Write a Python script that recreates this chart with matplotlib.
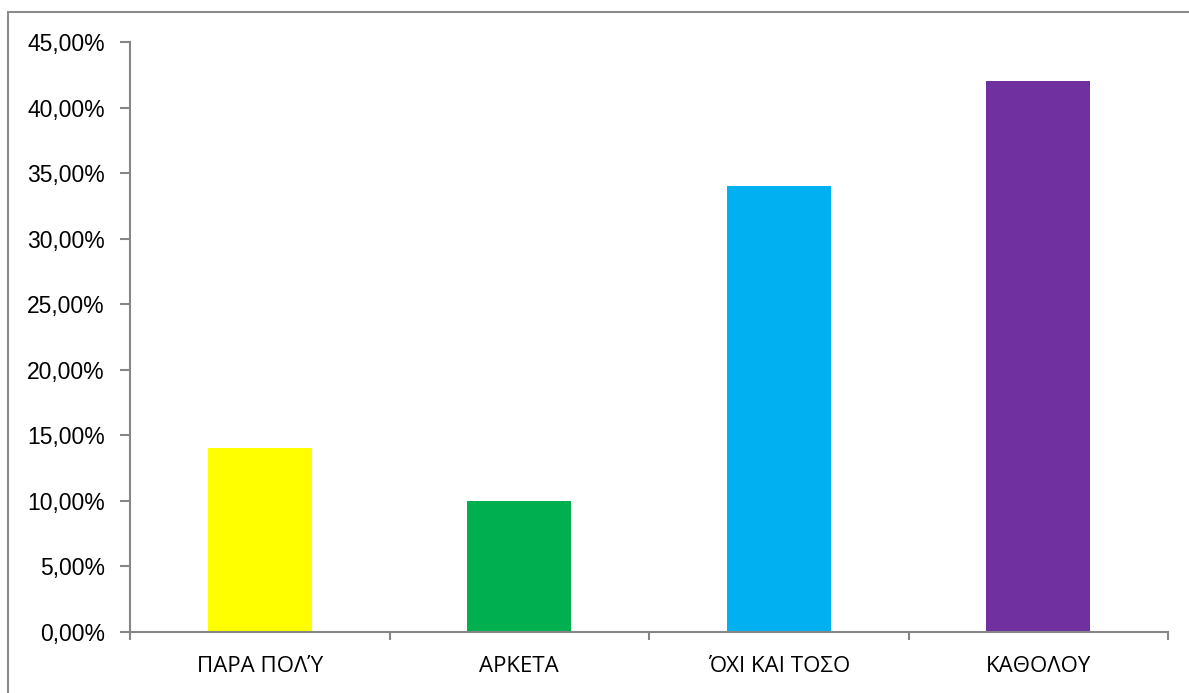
import matplotlib.pyplot as plt
from matplotlib.patches import Rectangle
from matplotlib.ticker import FuncFormatter, MultipleLocator

# survey answers and their shares (percent)
categories = ["ΠΑΡΑ ΠΟΛΎ", "ΑΡΚΕΤΑ", "ΌΧΙ ΚΑΙ ΤΟΣΟ", "ΚΑΘΟΛΟΥ"]
shares = [14.0, 10.0, 34.0, 42.0]
bar_colors = ["#FFFF00", "#00B050", "#00B0F0", "#7030A0"]

axis_gray = "#868686"

fig = plt.figure(figsize=(11.89, 6.93), dpi=100)
ax = fig.add_axes([130 / 1189, 1 - 632 / 693, (1168 - 130) / 1189, (632 - 42) / 693])

x = range(len(categories))
ax.bar(x, shares, width=0.4, color=bar_colors, zorder=2)

ax.set_xlim(-0.5, len(categories) - 0.5)
ax.set_ylim(0, 45)
ax.yaxis.set_major_locator(MultipleLocator(5))
ax.yaxis.set_major_formatter(FuncFormatter(lambda v, _: f"{v:.2f}".replace(".", ",") + "%"))

# category labels between the boundary ticks
ax.set_xticks(list(x))
ax.set_xticklabels(categories, fontsize=16, family=["Open Sans", "DejaVu Sans"])
ax.tick_params(axis="x", length=0, pad=17)
ax.set_xticks([i - 0.5 for i in range(len(categories) + 1)], minor=True)
ax.tick_params(axis="x", which="minor", length=6, width=1.5, color=axis_gray, direction="out")

ax.tick_params(axis="y", length=7, width=1.5, color=axis_gray, labelsize=16.5, pad=11)
for lbl in ax.get_yticklabels():
    lbl.set_family(["Liberation Sans Narrow", "Liberation Sans"])

for side in ("top", "right"):
    ax.spines[side].set_visible(False)
for side in ("left", "bottom"):
    ax.spines[side].set_color(axis_gray)
    ax.spines[side].set_linewidth(1.5)

# chart frame
fig.patches.append(Rectangle((8 / 1189, -0.1), 1.2, 1 - 12 / 693 + 0.1,
                             transform=fig.transFigure, fill=False,
                             edgecolor="#8C8C8C", linewidth=1.5))

fig.savefig("out.png", dpi=100)
